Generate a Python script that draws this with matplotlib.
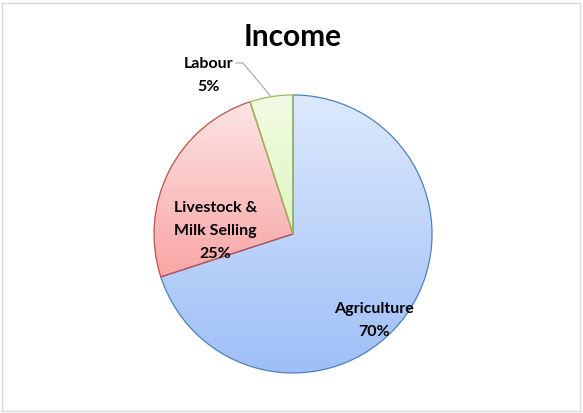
import matplotlib.pyplot as plt
import matplotlib.patches as mpatches
import numpy as np
from matplotlib.colors import to_rgb

# Data
labels = ["Agriculture", "Livestock &\nMilk Selling", "Labour"]
shares = [70, 25, 5]

# Colours (top of gradient, bottom of gradient, edge)
tops = ["#dee9fc", "#fde4e4", "#f2fbe4"]
bottoms = ["#9ebff7", "#f9a5a5", "#def6bd"]
edges = ["#4f81bd", "#c0504d", "#9bbb59"]

fig = plt.figure(figsize=(5.83, 4.13), dpi=100)
ax = fig.add_axes([0, 0, 1, 1])
ax.axis("off")

wedges, _ = ax.pie(shares, startangle=90, counterclock=False, radius=1,
                   wedgeprops=dict(linewidth=0.9), normalize=True)

for w, c1, c2, ec in zip(wedges, tops, bottoms, edges):
    w.set_facecolor("none")
    w.set_edgecolor(ec)
    w.set_zorder(3)
    ext = w.get_path().get_extents()
    t = np.linspace(0, 1, 200)[:, None]
    grad = (1 - t) * np.array(to_rgb(c1)) + t * np.array(to_rgb(c2))
    im = ax.imshow(grad[:, None, :], extent=[ext.x0, ext.x1, ext.y0, ext.y1],
                   aspect="auto", origin="upper", zorder=2)
    im.set_clip_path(w)
ax.set_xlim(-2.108, 2.086)
ax.set_ylim(-1.288, 1.683)

font = dict(family="Lato", weight="bold", fontsize=11.5, color="black")

# Labels with percentages
pct = [f"{s}%" for s in shares]
ax.text(0.58, -0.62, f"{labels[0]}\n{pct[0]}", ha="center", va="center",
        linespacing=1.8, zorder=5, **font)
ax.text(-0.56, 0.02, f"{labels[1]}\n{pct[1]}", ha="center", va="center",
        linespacing=1.8, zorder=5, **font)
ax.text(-0.61, 1.14, f"{labels[2]}\n{pct[2]}", ha="center", va="center",
        linespacing=1.8, zorder=5, **font)

# Leader line for Labour
ax.plot([-0.41, -0.36, -0.16], [1.23, 1.23, 0.99], color="#a6a6a6",
        linewidth=0.8, zorder=4)

# Title
ax.text(0, 1.42, "Income", ha="center", va="center", family="Lato",
        weight="bold", fontsize=21.5)

# Chart border
fig.patches.append(mpatches.Rectangle((2 / 583, 2 / 413), 578 / 583, 408 / 413,
                                      transform=fig.transFigure, fill=False,
                                      edgecolor="#d9d9d9", linewidth=1))

fig.savefig("out.png", dpi=100)
